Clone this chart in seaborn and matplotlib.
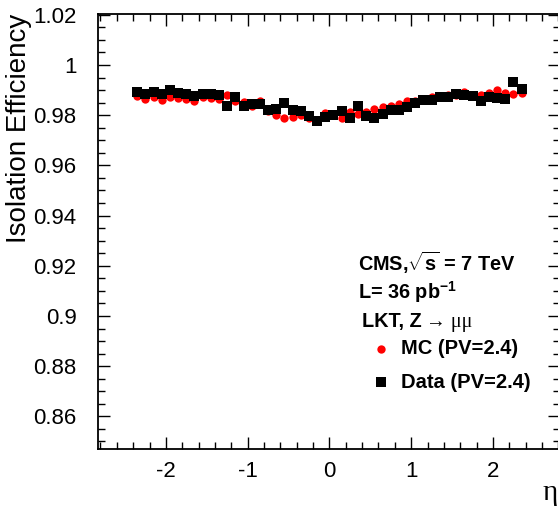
import numpy as np
import pandas as pd
import matplotlib
matplotlib.use("Agg")
import matplotlib.pyplot as plt
from matplotlib.ticker import MultipleLocator, FuncFormatter
import seaborn as sns

# eta bin centres
eta = [-2.35, -2.25, -2.15, -2.05, -1.95, -1.85, -1.75, -1.65, -1.55, -1.45,
       -1.35, -1.25, -1.15, -1.05, -0.95, -0.85, -0.75, -0.65, -0.55, -0.45,
       -0.35, -0.25, -0.15, -0.05, 0.05, 0.15, 0.25, 0.35, 0.45, 0.55,
       0.65, 0.75, 0.85, 0.95, 1.05, 1.15, 1.25, 1.35, 1.45, 1.55,
       1.65, 1.75, 1.85, 1.95, 2.05, 2.15, 2.25, 2.35]

# MC efficiency (red circles)
mc_eff = [0.9878, 0.9866, 0.9874, 0.9860, 0.9871, 0.9868, 0.9866, 0.9856, 0.9874, 0.9868,
          0.9864, 0.9880, 0.9858, 0.9854, 0.9838, 0.9858, 0.9815, 0.9800, 0.9790, 0.9792,
          0.9800, 0.9790, 0.9780, 0.9808, 0.9800, 0.9788, 0.9812, 0.9805, 0.9812, 0.9826,
          0.9834, 0.9838, 0.9843, 0.9858, 0.9856, 0.9866, 0.9872, 0.9878, 0.9882, 0.9880,
          0.9892, 0.9882, 0.9882, 0.9888, 0.9902, 0.9890, 0.9886, 0.9887]

# Data efficiency (black squares)
data_eff = [0.9894, 0.9886, 0.9894, 0.9884, 0.9902, 0.9890, 0.9884, 0.9877, 0.9886, 0.9884,
            0.9880, 0.9838, 0.9871, 0.9838, 0.9845, 0.9845, 0.9822, 0.9826, 0.9847, 0.9820,
            0.9818, 0.9796, 0.9777, 0.9793, 0.9801, 0.9818, 0.9790, 0.9838, 0.9795, 0.9790,
            0.9805, 0.9822, 0.9820, 0.9834, 0.9850, 0.9860, 0.9860, 0.9871, 0.9871, 0.9884,
            0.9882, 0.9878, 0.9858, 0.9871, 0.9870, 0.9864, 0.9931, 0.9904]

sns.set_style("ticks")
plt.rcParams['font.family'] = ['Liberation Sans', 'DejaVu Sans']
plt.rcParams['text.color'] = 'black'
plt.rcParams['axes.labelcolor'] = 'black'
plt.rcParams['axes.edgecolor'] = 'black'
plt.rcParams['xtick.color'] = 'black'
plt.rcParams['ytick.color'] = 'black'
plt.rcParams['mathtext.fontset'] = 'custom'
plt.rcParams['mathtext.rm'] = 'Liberation Sans:bold'
plt.rcParams['mathtext.it'] = 'Liberation Sans:bold'
plt.rcParams['mathtext.bf'] = 'Liberation Sans:bold'
plt.rcParams['mathtext.default'] = 'rm'

fig = plt.figure(figsize=(5.58, 5.09), dpi=100)
ax = fig.add_axes([98 / 558, 60 / 509, 462 / 558, 435 / 509])

sns.scatterplot(x=eta, y=mc_eff, marker='o', color='#ff0000', s=36, linewidth=0,
                ax=ax, label='MC (PV=2.4)', zorder=3)
sns.scatterplot(x=eta, y=data_eff, marker='s', color='black', s=42, linewidth=0,
                ax=ax, label='Data (PV=2.4)', zorder=4)

ax.set_xlim(-2.83, 2.82)
ax.set_ylim(0.847, 1.0203)
ax.xaxis.set_major_locator(MultipleLocator(1))
ax.xaxis.set_minor_locator(MultipleLocator(0.2))
ax.yaxis.set_major_locator(MultipleLocator(0.02))
ax.yaxis.set_minor_locator(MultipleLocator(0.005))
fmt = FuncFormatter(lambda v, p: f"{round(v, 4):g}")
ax.xaxis.set_major_formatter(fmt)
ax.yaxis.set_major_formatter(fmt)
ax.tick_params(which='both', direction='in', top=True, right=True, width=1, labelsize=16)
ax.tick_params(which='major', length=8.6)
ax.tick_params(which='minor', length=4.7)
ax.tick_params(axis='y', pad=15.5)
ax.tick_params(axis='x', pad=8.5)
for sp in ax.spines.values():
    sp.set_linewidth(1.3)

ax.set_ylabel("Isolation Efficiency", fontsize=20, loc='top')
ax.yaxis.set_label_coords(-0.143, 1.0)
fig.text(550 / 558, 1 - 493 / 509, "η", fontsize=21, ha='center', va='center',
         family=['Liberation Serif', 'DejaVu Serif'])

fig.text(358 / 558, 1 - 263 / 509, r"CMS,$\sqrt{s}$ = 7 TeV", fontsize=14.3,
         weight='bold', va='center')
fig.text(358 / 558, 1 - 292 / 509, r"L= 36 pb$^{-1}$", fontsize=14.3,
         weight='bold', va='center')
fig.text(362 / 558, 1 - 322 / 509, "LKT, Z", fontsize=14.3, weight='bold', va='center')
fig.text(426 / 558, 1 - 322 / 509, "→ μμ", fontsize=14.3, va='center',
         family=['Liberation Serif', 'DejaVu Serif'])

ax.legend(loc='upper left', bbox_to_anchor=(372 / 558, 1 - 339 / 509),
          bbox_transform=fig.transFigure, frameon=False, borderpad=0,
          borderaxespad=0, handlelength=0.9, handletextpad=0.55, labelspacing=0.72,
          prop={'weight': 'bold', 'size': 14.5})

fig.savefig("out.png", dpi=100)
